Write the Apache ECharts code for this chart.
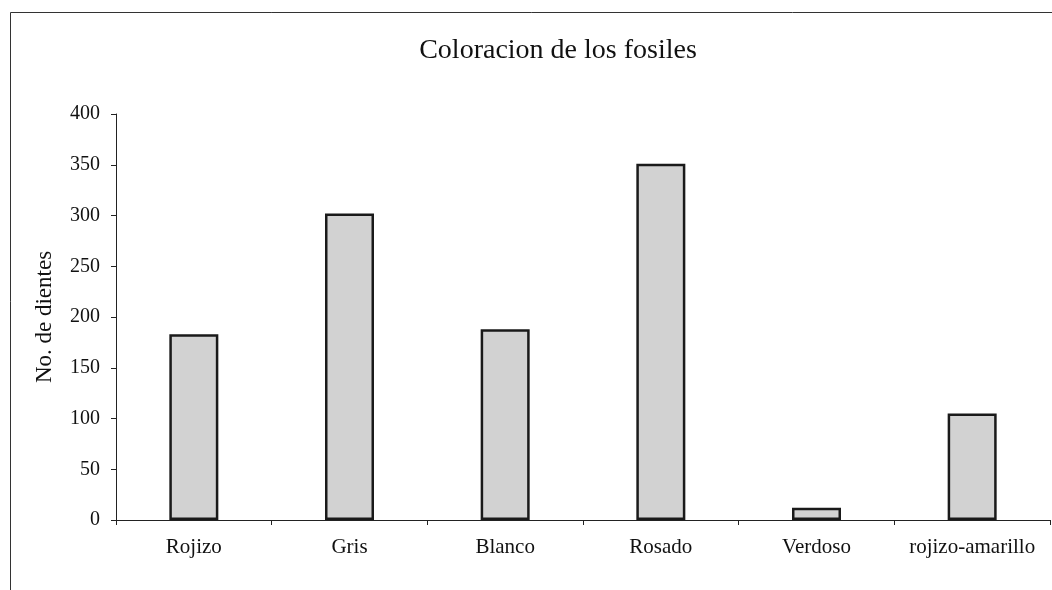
<!DOCTYPE html>
<html>
<head>
<meta charset="utf-8">
<script src="https://cdn.jsdelivr.net/npm/echarts@6/dist/echarts.min.js"></script>
<style>
  html, body { margin: 0; padding: 0; background: #fff; }
  #chart { width: 1052px; height: 590px; }
</style>
</head>
<body>
<div id="chart"></div>
<script>
// Tooth counts per fossil colouration
const categories = ['Rojizo', 'Gris', 'Blanco', 'Rosado', 'Verdoso', 'rojizo-amarillo'];
const counts = [183, 302, 188, 351, 12, 105];
const yTicks = { min: 0, max: 400, interval: 50 };

const serif = '"Liberation Serif", "DejaVu Serif", serif';
const chart = echarts.init(document.getElementById('chart'));

chart.setOption({
  backgroundColor: '#ffffff',
  animation: false,
  title: {
    text: 'Coloracion de los fosiles',
    left: 553,
    top: 32,
    textAlign: 'center',
    textStyle: { fontFamily: serif, fontSize: 28, fontWeight: 'normal', color: '#111' }
  },
  graphic: [{
    type: 'rect',
    shape: { x: 10.5, y: 12.5, width: 1100, height: 700 },
    style: { fill: 'none', stroke: '#333', lineWidth: 1 },
    silent: true,
    z: -1
  }],
  grid: { left: 116, top: 114, right: 2, bottom: 70, containLabel: false },
  xAxis: {
    type: 'category',
    data: categories,
    boundaryGap: true,
    axisLine: { lineStyle: { color: '#222', width: 1 } },
    axisTick: { show: true, alignWithLabel: false, length: 5, lineStyle: { color: '#222' } },
    axisLabel: { fontFamily: serif, fontSize: 21, color: '#111', margin: 17, interval: 0 },
    splitLine: { show: false }
  },
  yAxis: {
    type: 'value',
    min: yTicks.min,
    max: yTicks.max,
    interval: yTicks.interval,
    name: 'No. de dientes',
    nameLocation: 'middle',
    nameGap: 60,
    nameTextStyle: { fontFamily: serif, fontSize: 23, color: '#111' },
    axisLine: { show: true, lineStyle: { color: '#222', width: 1 } },
    axisTick: { show: true, length: 5, lineStyle: { color: '#222' } },
    axisLabel: { fontFamily: serif, fontSize: 20, color: '#111', margin: 16 },
    splitLine: { show: false }
  },
  series: [{
    type: 'bar',
    data: counts,
    barWidth: 49,
    itemStyle: { color: '#d2d2d2', borderColor: '#1a1a1a', borderWidth: 2.5 }
  }]
});
</script>
</body>
</html>
